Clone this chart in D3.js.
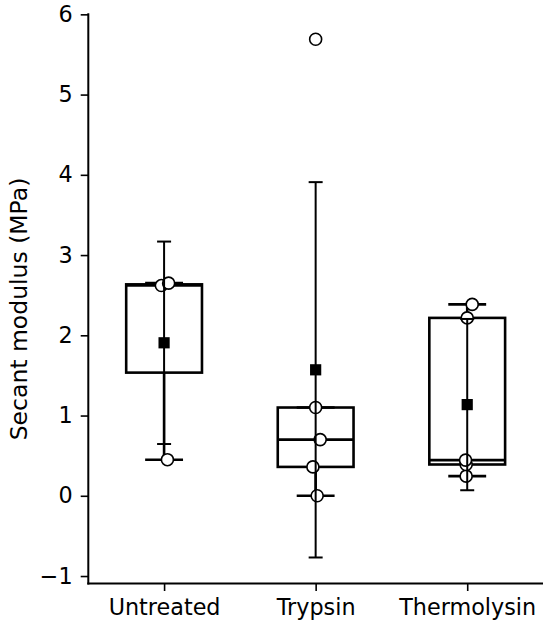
<!DOCTYPE html>
<html>
<head>
<meta charset="utf-8">
<script src="https://cdn.jsdelivr.net/npm/d3@7"></script>
<style>
  body { margin: 0; background: #fff; }
  svg { display: block; font-family: "DejaVu Sans", sans-serif; }
</style>
</head>
<body>
<div id="chart"></div>
<script>
const categories = ["Untreated", "Trypsin", "Thermolysin"];

const untreatedValues = [0.45, 2.62, 2.65];
const trypsinValues = [0.0, 0.36, 0.70, 1.10, 5.69];
const thermolysinValues = [0.245, 0.39, 0.445, 2.217, 2.385];

// horizontal offset of each point from its category centre (category units)
const untreatedJitter = [0.022, -0.018, 0.03];
const trypsinJitter = [0.01, -0.018, 0.03, 0, 0];
const thermolysinJitter = [-0.007, -0.007, -0.011, 0, 0.033];

const yTicks = [-1, 0, 1, 2, 3, 4, 5, 6];

const width = 550;
const height = 629;
const margin = { top: 13.3, right: 7, bottom: 45.6, left: 88.3 };

const groups = [
  { name: categories[0], values: untreatedValues, jitter: untreatedJitter },
  { name: categories[1], values: trypsinValues, jitter: trypsinJitter },
  { name: categories[2], values: thermolysinValues, jitter: thermolysinJitter },
];

function summarize(values) {
  const sorted = values.slice().sort(d3.ascending);
  const q1 = d3.quantile(sorted, 0.25);
  const median = d3.quantile(sorted, 0.5);
  const q3 = d3.quantile(sorted, 0.75);
  const iqr = q3 - q1;
  const low = d3.min(sorted.filter((v) => v >= q1 - 1.5 * iqr));
  const high = d3.max(sorted.filter((v) => v <= q3 + 1.5 * iqr));
  const mean = d3.mean(sorted);
  const sd = d3.deviation(sorted);

  return { q1, median, q3, low, high, mean, sd };
}

groups.forEach((group, index) => {
  group.pos = index + 1;
  group.stats = summarize(group.values);
});

// matplotlib-style autoscale: 5% margin around everything drawn
const yMin = d3.min(groups, (g) => Math.min(d3.min(g.values), g.stats.mean - g.stats.sd));
const yMax = d3.max(groups, (g) => Math.max(d3.max(g.values), g.stats.mean + g.stats.sd));
const yPad = (yMax - yMin) * 0.05;

const x = d3
  .scaleLinear()
  .domain([0.5, 3.5])
  .range([margin.left, width - margin.right]);

const y = d3
  .scaleLinear()
  .domain([yMin - yPad, yMax + yPad])
  .range([height - margin.bottom, margin.top]);

const svg = d3
  .select("#chart")
  .append("svg")
  .attr("width", width)
  .attr("height", height)
  .attr("viewBox", [0, 0, width, height]);

const boxWidth = 0.5;
const capWidth = 0.25;
const errCap = 7;

const plot = svg.append("g").attr("class", "boxes");

groups.forEach((group) => {
  const s = group.stats;
  const g = plot.append("g");
  const cx = x(group.pos);

  g.append("rect")
    .attr("x", x(group.pos - boxWidth / 2))
    .attr("y", y(s.q3))
    .attr("width", x(group.pos + boxWidth / 2) - x(group.pos - boxWidth / 2))
    .attr("height", y(s.q1) - y(s.q3))
    .attr("fill", "#fff")
    .attr("stroke", "#000")
    .attr("stroke-width", 2.6);

  // whiskers and their caps
  [[s.q1, s.low], [s.q3, s.high]].forEach(([from, to]) => {
    g.append("line")
      .attr("x1", cx)
      .attr("x2", cx)
      .attr("y1", y(from))
      .attr("y2", y(to))
      .attr("stroke", "#000")
      .attr("stroke-width", 2.6);

    g.append("line")
      .attr("x1", x(group.pos - capWidth / 2))
      .attr("x2", x(group.pos + capWidth / 2))
      .attr("y1", y(to))
      .attr("y2", y(to))
      .attr("stroke", "#000")
      .attr("stroke-width", 2.6);
  });

  g.append("line")
    .attr("x1", x(group.pos - boxWidth / 2))
    .attr("x2", x(group.pos + boxWidth / 2))
    .attr("y1", y(s.median))
    .attr("y2", y(s.median))
    .attr("stroke", "#000")
    .attr("stroke-width", 2.6);
});

// individual points
groups.forEach((group) => {
  plot
    .append("g")
    .selectAll("circle")
    .data(group.values.map((v, i) => ({ v, j: group.jitter[i] })))
    .join("circle")
    .attr("cx", (d) => x(group.pos + d.j))
    .attr("cy", (d) => y(d.v))
    .attr("r", 6)
    .attr("fill", "#fff")
    .attr("stroke", "#000")
    .attr("stroke-width", 1.6);
});

// mean +/- SD
groups.forEach((group) => {
  const s = group.stats;
  const cx = x(group.pos);
  const g = plot.append("g");

  g.append("line")
    .attr("x1", cx)
    .attr("x2", cx)
    .attr("y1", y(s.mean - s.sd))
    .attr("y2", y(s.mean + s.sd))
    .attr("stroke", "#000")
    .attr("stroke-width", 2);

  [s.mean - s.sd, s.mean + s.sd].forEach((v) => {
    g.append("line")
      .attr("x1", cx - errCap)
      .attr("x2", cx + errCap)
      .attr("y1", y(v))
      .attr("y2", y(v))
      .attr("stroke", "#000")
      .attr("stroke-width", 2);
  });

  g.append("rect")
    .attr("x", cx - 5.6)
    .attr("y", y(s.mean) - 5.6)
    .attr("width", 11.2)
    .attr("height", 11.2)
    .attr("fill", "#000");
});

// axes
const yAxis = svg
  .append("g")
  .attr("transform", `translate(${margin.left},0)`)
  .call(d3.axisLeft(y).tickValues(yTicks).tickSize(7.6).tickPadding(8));

const xAxis = svg
  .append("g")
  .attr("transform", `translate(0,${height - margin.bottom})`)
  .call(
    d3
      .axisBottom(x)
      .tickValues([1, 2, 3])
      .tickFormat((d) => categories[d - 1])
      .tickSize(7.6)
      .tickPadding(8),
  );

[yAxis, xAxis].forEach((axis) => {
  axis.select(".domain").attr("stroke-width", 2).attr("d", null);
  axis.selectAll(".tick line").attr("stroke-width", 1.6);
  axis.selectAll(".tick text").attr("font-size", 22.3).attr("fill", "#000");
  axis.attr("font-family", null);
});

// plain spines (no outer ticks)
svg
  .append("line")
  .attr("x1", margin.left)
  .attr("x2", margin.left)
  .attr("y1", margin.top)
  .attr("y2", height - margin.bottom + 1)
  .attr("stroke", "#000")
  .attr("stroke-width", 2);

svg
  .append("line")
  .attr("x1", margin.left - 1)
  .attr("x2", width - margin.right)
  .attr("y1", height - margin.bottom)
  .attr("y2", height - margin.bottom)
  .attr("stroke", "#000")
  .attr("stroke-width", 2);

svg
  .append("text")
  .attr("transform", "translate(27,309) rotate(-90)")
  .attr("text-anchor", "middle")
  .attr("font-size", 23.5)
  .attr("fill", "#000")
  .text("Secant modulus (MPa)");
</script>
</body>
</html>
